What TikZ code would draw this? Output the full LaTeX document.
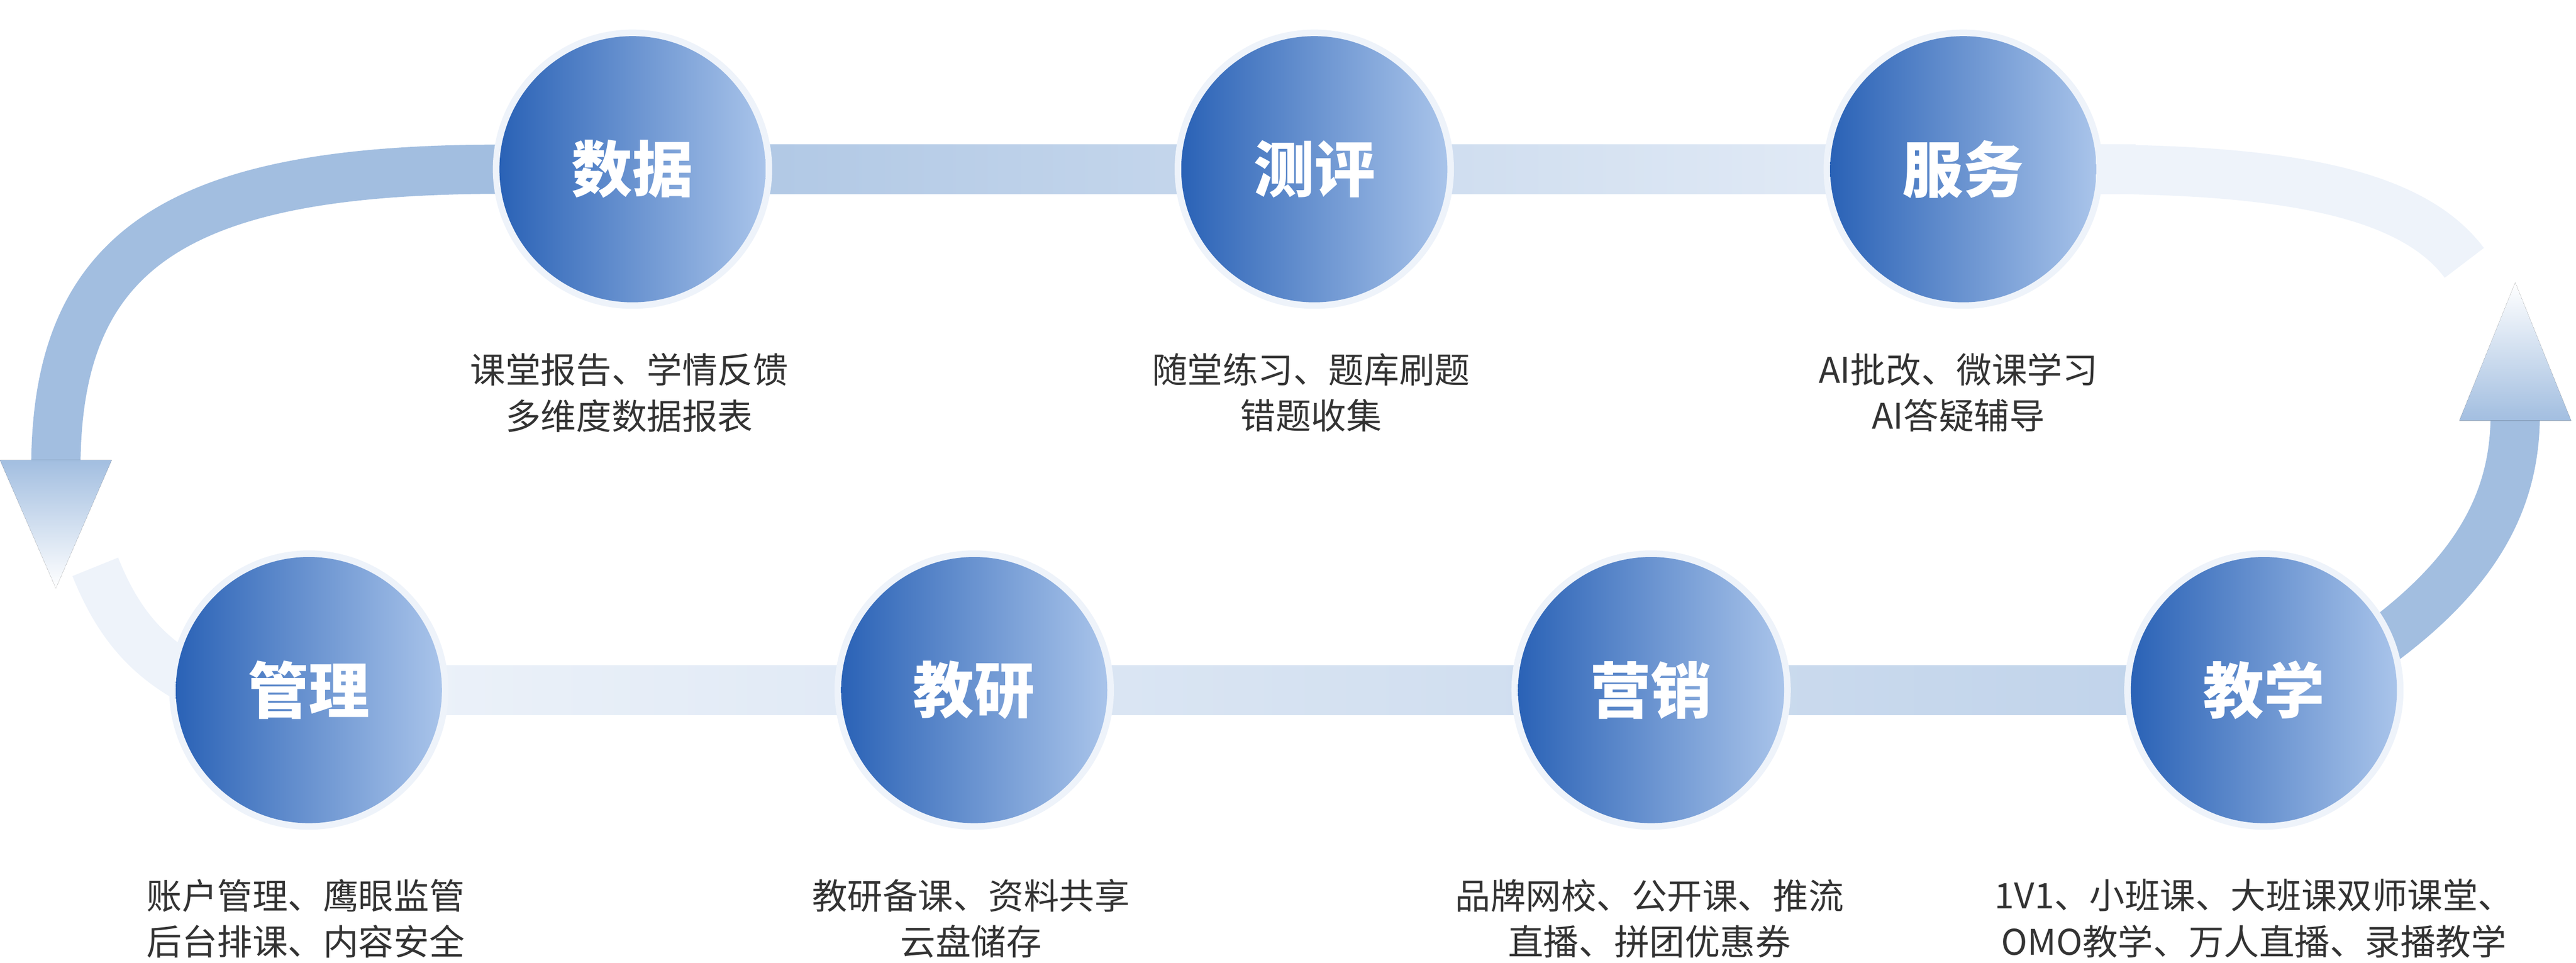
\documentclass[tikz,border=0pt]{standalone}
\usepackage{fontspec}
\setmainfont{Noto Sans CJK SC}
\begin{document}
\begin{tikzpicture}[x=1pt,y=-1pt,
  circ/.style={circle,minimum size=162pt,inner sep=0pt,left color=c1,right color=c2,text=white,font=\fontsize{37}{40}\selectfont\bfseries},
  lbl/.style={text=txt,font=\fontsize{21.5}{28}\selectfont,align=center},
  band/.style={line width=30pt}]
\definecolor{c1}{HTML}{2A62B6}
\definecolor{c2}{HTML}{A9C4EA}
\definecolor{txt}{HTML}{333333}
\definecolor{arcc}{HTML}{A2BEE0}
\definecolor{faint}{HTML}{EEF3FA}
\useasboundingbox (0,0) rectangle (1568,586);
% bands
\fill[left color=arcc!90,right color=faint] (385,88) rectangle (1300,118);
\fill[left color=faint,right color=arcc!70] (188,405) rectangle (1378,435);
\draw[band,color=arcc] (305,103) .. controls (110,103) and (34,150) .. (34,285);
\fill[top color=arcc,bottom color=white] (0,280) -- (68,280) -- (34,358) -- cycle;
\draw[band,color=faint] (58,345) .. controls (72,380) and (90,400) .. (118,415);
\draw[band,color=faint] (1270,103) .. controls (1400,103) and (1470,120) .. (1500,160);
\draw[band,color=arcc] (1448,392) .. controls (1512,345) and (1531,300) .. (1531,252);
\fill[bottom color=arcc,top color=white] (1497,256) -- (1565,256) -- (1531,172) -- cycle;
% circle halos
\foreach \p in {(385,103),(800,103),(1195,103),(188,420),(593,420),(1005,420),(1378,420)}
  \fill[faint] \p circle (85);
% circles
\node[circ] (sj) at (385,103) {数据};
\node[circ] (cp) at (800,103) {测评};
\node[circ] (fw) at (1195,103) {服务};
\node[circ] (gl) at (188,420) {管理};
\node[circ] (jy) at (593,420) {教研};
\node[circ] (yx) at (1005,420) {营销};
\node[circ] (jx) at (1378,420) {教学};
% labels
\node[lbl] (l1) at (383,239) {课堂报告、学情反馈\\多维度数据报表};
\node[lbl] (l2) at (798,239) {随堂练习、题库刷题\\错题收集};
\node[lbl] (l3) at (1192,239) {AI批改、微课学习\\AI答疑辅导};
\node[lbl] (l4) at (186,559) {账户管理、鹰眼监管\\后台排课、内容安全};
\node[lbl] (l5) at (591,559) {教研备课、资料共享\\云盘储存};
\node[lbl] (l6) at (1004,559) {品牌网校、公开课、推流\\直播、拼团优惠券};
\node[lbl] (l7) at (1372,559) {1V1、小班课、大班课双师课堂、\\OMO教学、万人直播、录播教学};
\end{tikzpicture}
\end{document}
